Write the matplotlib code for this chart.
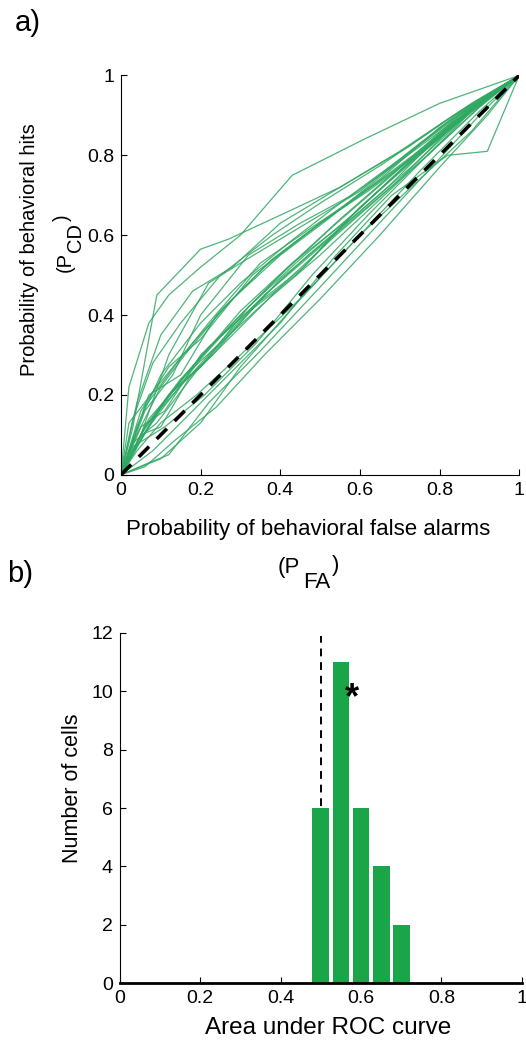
"""ROC curves of behavioural detection per cell and histogram of ROC areas."""

import matplotlib
matplotlib.use("Agg")
import matplotlib.pyplot as plt

plt.rcParams["font.family"] = ["Liberation Sans", "DejaVu Sans"]

# (P_FA, P_CD) operating points, one curve per cell
ROC_FA = [
    [0, 0.02, 0.07, 0.12, 0.20, 0.30, 0.43, 0.61, 0.80, 1],
    [0, 0.03, 0.09, 0.20, 0.27, 0.40, 0.55, 0.72, 0.88, 1],
    [0, 0.04, 0.10, 0.18, 0.28, 0.40, 0.55, 0.70, 0.85, 1],
    [0, 0.05, 0.12, 0.22, 0.30, 0.45, 0.60, 0.75, 0.90, 1],
    [0, 0.03, 0.08, 0.15, 0.25, 0.38, 0.50, 0.66, 0.82, 1],
    [0, 0.06, 0.13, 0.20, 0.32, 0.45, 0.58, 0.72, 0.87, 1],
    [0, 0.04, 0.10, 0.20, 0.30, 0.42, 0.55, 0.70, 0.85, 1],
    [0, 0.05, 0.12, 0.20, 0.33, 0.46, 0.60, 0.74, 0.90, 1],
    [0, 0.02, 0.09, 0.18, 0.28, 0.40, 0.52, 0.68, 0.84, 1],
    [0, 0.06, 0.14, 0.22, 0.35, 0.48, 0.60, 0.76, 0.90, 1],
    [0, 0.03, 0.10, 0.16, 0.26, 0.38, 0.50, 0.65, 0.80, 1],
    [0, 0.07, 0.15, 0.24, 0.36, 0.50, 0.62, 0.77, 0.90, 1],
    [0, 0.04, 0.10, 0.20, 0.30, 0.42, 0.55, 0.70, 0.85, 1],
    [0, 0.05, 0.12, 0.20, 0.32, 0.45, 0.58, 0.72, 0.88, 1],
    [0, 0.03, 0.08, 0.16, 0.27, 0.40, 0.53, 0.68, 0.83, 1],
    [0, 0.06, 0.13, 0.22, 0.34, 0.47, 0.60, 0.74, 0.90, 1],
    [0, 0.02, 0.10, 0.18, 0.30, 0.43, 0.56, 0.70, 0.86, 1],
    [0, 0.05, 0.11, 0.20, 0.31, 0.44, 0.57, 0.71, 0.87, 1],
    [0, 0.04, 0.12, 0.22, 0.33, 0.46, 0.60, 0.75, 0.89, 1],
    [0, 0.07, 0.14, 0.23, 0.36, 0.50, 0.63, 0.77, 0.91, 1],
    [0, 0.03, 0.09, 0.19, 0.29, 0.41, 0.54, 0.69, 0.84, 1],
    [0, 0.05, 0.10, 0.17, 0.28, 0.40, 0.52, 0.67, 0.82, 1],
    [0, 0.06, 0.15, 0.25, 0.37, 0.50, 0.64, 0.78, 0.92, 1],
    [0, 0.05, 0.10, 0.20, 0.30, 0.45, 0.60, 0.75, 0.88, 1],
    [0, 0.07, 0.12, 0.22, 0.35, 0.50, 0.63, 0.78, 0.90, 1],
    [0, 0.04, 0.10, 0.19, 0.30, 0.46, 0.60, 0.75, 0.90, 1],
    [0, 0.08, 0.16, 0.26, 0.40, 0.54, 0.68, 0.82, 0.92, 1],
    [0, 0.06, 0.14, 0.24, 0.36, 0.50, 0.65, 0.80, 0.92, 1],
    [0, 0.03, 0.11, 0.21, 0.34, 0.48, 0.62, 0.77, 0.90, 1],
]
ROC_CD = [
    [0, 0.22, 0.38, 0.45, 0.52, 0.60, 0.75, 0.84, 0.93, 1],
    [0, 0.12, 0.45, 0.565, 0.59, 0.65, 0.72, 0.82, 0.93, 1],
    [0, 0.18, 0.35, 0.46, 0.52, 0.63, 0.72, 0.81, 0.91, 1],
    [0, 0.10, 0.30, 0.48, 0.53, 0.62, 0.71, 0.83, 0.94, 1],
    [0, 0.14, 0.28, 0.38, 0.50, 0.60, 0.68, 0.78, 0.89, 1],
    [0, 0.16, 0.25, 0.40, 0.55, 0.63, 0.70, 0.80, 0.91, 1],
    [0, 0.12, 0.25, 0.38, 0.48, 0.58, 0.68, 0.79, 0.90, 1],
    [0, 0.16, 0.27, 0.34, 0.50, 0.60, 0.70, 0.80, 0.93, 1],
    [0, 0.13, 0.22, 0.33, 0.44, 0.55, 0.64, 0.77, 0.90, 1],
    [0, 0.17, 0.28, 0.38, 0.53, 0.62, 0.70, 0.82, 0.93, 1],
    [0, 0.08, 0.22, 0.30, 0.42, 0.54, 0.63, 0.74, 0.87, 1],
    [0, 0.20, 0.25, 0.40, 0.52, 0.63, 0.71, 0.82, 0.93, 1],
    [0, 0.08, 0.16, 0.29, 0.40, 0.52, 0.64, 0.77, 0.90, 1],
    [0, 0.10, 0.20, 0.27, 0.42, 0.54, 0.65, 0.78, 0.92, 1],
    [0, 0.05, 0.14, 0.25, 0.37, 0.50, 0.62, 0.75, 0.88, 1],
    [0, 0.12, 0.20, 0.30, 0.43, 0.55, 0.66, 0.78, 0.93, 1],
    [0, 0.04, 0.17, 0.27, 0.41, 0.53, 0.63, 0.76, 0.90, 1],
    [0, 0.12, 0.16, 0.30, 0.40, 0.50, 0.64, 0.77, 0.90, 1],
    [0, 0.07, 0.20, 0.32, 0.42, 0.52, 0.67, 0.80, 0.92, 1],
    [0, 0.14, 0.22, 0.30, 0.45, 0.57, 0.68, 0.80, 0.94, 1],
    [0, 0.08, 0.13, 0.26, 0.36, 0.48, 0.60, 0.73, 0.88, 1],
    [0, 0.10, 0.12, 0.24, 0.36, 0.49, 0.59, 0.72, 0.87, 1],
    [0, 0.12, 0.24, 0.33, 0.44, 0.55, 0.68, 0.81, 0.94, 1],
    [0, 0.02, 0.04, 0.13, 0.27, 0.44, 0.60, 0.74, 0.86, 1],
    [0, 0.03, 0.05, 0.18, 0.31, 0.47, 0.61, 0.77, 0.90, 1],
    [0, 0.06, 0.13, 0.20, 0.30, 0.45, 0.60, 0.76, 0.91, 1],
    [0, 0.06, 0.14, 0.24, 0.38, 0.55, 0.70, 0.80, 0.81, 1],
    [0, 0.02, 0.09, 0.17, 0.30, 0.44, 0.60, 0.77, 0.90, 1],
    [0, 0.07, 0.12, 0.20, 0.33, 0.50, 0.65, 0.80, 0.92, 1],
]

# histogram of ROC areas
AUC_BINS = [0.50, 0.55, 0.60, 0.65, 0.70]
N_CELLS = [6, 11, 6, 4, 2]
CHANCE = 0.5
STAR_POS = (0.578, 9.75)

TICKS = [0, 0.2, 0.4, 0.6, 0.8, 1]
TICK_LABELS = ["0", "0.2", "0.4", "0.6", "0.8", "1"]

LINE_GREEN = "#2FA862"
BAR_GREEN = "#1AA548"

W, H = 526, 1048
fig = plt.figure(figsize=(W / 100, H / 100), dpi=100)
ax_a = fig.add_axes([0.230, 0.547, 0.757, 0.381])
ax_b = fig.add_axes([0.228, 0.062, 0.764, 0.334])


def ftext(px, py, s, **kw):
    """Place text at pixel position (origin top left)."""
    fig.text(px / W, 1 - py / H, s, ha="center", va="center", **kw)


for ax in (ax_a, ax_b):
    for side in ("top", "right"):
        ax.spines[side].set_visible(False)
    ax.tick_params(direction="in", length=4, width=0.8, labelsize=14, pad=5)

# --- a) ROC curves ---
for fa, cd in zip(ROC_FA, ROC_CD):
    ax_a.plot(fa, cd, color=LINE_GREEN, lw=0.9, alpha=0.85)
ax_a.plot([0, 1], [0, 1], color="black", lw=2.6, ls=(0, (4, 3)))
ax_a.set_xlim(0, 1)
ax_a.set_ylim(0, 1)
ax_a.set_xticks(TICKS, TICK_LABELS)
ax_a.set_yticks(TICKS, TICK_LABELS)

ftext(30, 250, "Probability of behavioral hits", fontsize=14.5, rotation=90)
ftext(65, 262, "(P", fontsize=14.5, rotation=90)
ftext(76, 238, "CD", fontsize=14.5, rotation=90)
ftext(62, 218, ")", fontsize=14.5, rotation=90)

ftext(308, 530, "Probability of behavioral false alarms", fontsize=16)
ftext(289, 568, "(P", fontsize=16)
ftext(317, 583, "FA", fontsize=16)
ftext(336, 565, ")", fontsize=16)

# --- b) AUC histogram ---
ax_b.bar(AUC_BINS, N_CELLS, width=0.042, color=BAR_GREEN, edgecolor="none",
         zorder=2)
ax_b.plot([CHANCE, CHANCE], [0, 11.9], color="black", lw=1.4,
          ls=(0, (4, 3)), zorder=1)
ax_b.text(STAR_POS[0], STAR_POS[1], "*", fontsize=26, fontweight="bold",
          ha="center", va="center")
ax_b.set_xlim(0, 1)
ax_b.set_ylim(0, 12)
ax_b.set_xticks(TICKS, TICK_LABELS)
ax_b.set_yticks(range(0, 13, 2))
ax_b.spines["bottom"].set_linewidth(2)

ftext(72, 788, "Number of cells", fontsize=15.5, rotation=90)
ftext(328, 1028, "Area under ROC curve", fontsize=17.5)

ftext(28, 23, "a)", fontsize=21)
ftext(20, 574, "b)", fontsize=21)

fig.savefig("out.png", dpi=100, facecolor="white")
